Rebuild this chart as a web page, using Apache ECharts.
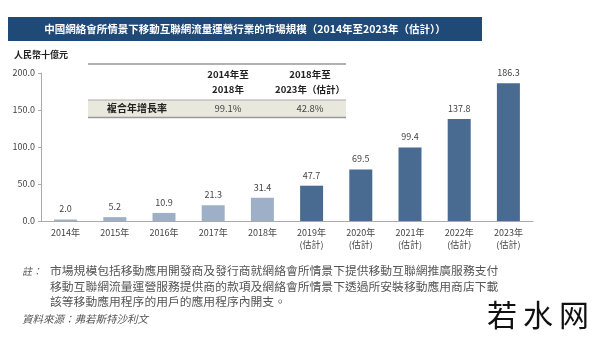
<!DOCTYPE html>
<html><head><meta charset="utf-8">
<script src="https://cdn.jsdelivr.net/npm/echarts@6/dist/echarts.min.js"></script>
<style>html,body{margin:0;padding:0;background:#fff}#c{width:600px;height:347px}</style>
</head><body><div id="c"></div>
<script>
const categories = ['2014年','2015年','2016年','2017年','2018年','2019年\n(估計)','2020年\n(估計)','2021年\n(估計)','2022年\n(估計)','2023年\n(估計)'];
const values = [2.0, 5.2, 10.9, 21.3, 31.4, 47.7, 69.5, 99.4, 137.8, 186.3];
const estimated = [false,false,false,false,false,true,true,true,true,true];
const yTicks = [0, 50, 100, 150, 200];
const cagrHeaders = [['2014年至','2018年'],['2018年至','2023年（估計）']];
const cagrLabel = '複合年增長率';
const cagrValues = ['99.1%','42.8%'];
const title = '中國網絡會所情景下移動互聯網流量運營行業的市場規模（2014年至2023年（估計））';
const unit = '人民幣十億元';
const notes = ['市場規模包括移動應用開發商及發行商就網絡會所情景下提供移動互聯網推廣服務支付',
 '移動互聯網流量運營服務提供商的款項及網絡會所情景下透過所安裝移動應用商店下載',
 '該等移動應用程序的用戶的應用程序內開支。'];
const source = '資料來源：弗若斯特沙利文';

const FONT = '"Noto Sans CJK TC","Noto Sans CJK SC",serif';
const chart = echarts.init(document.getElementById('c'));
const colLight = '#9db0c8', colDark = '#4a6b91';
const g = [
  {type:'rect', shape:{x:8,y:17,width:474,height:24}, style:{fill:'#1f4a78'}},
  {type:'text', x:245, y:29, style:{text:title, fill:'#fff', font:'bold 10.5px '+FONT, align:'center', verticalAlign:'middle'}},
  {type:'text', x:14, y:55, style:{text:unit, fill:'#222', font:'bold 9px '+FONT, verticalAlign:'middle'}},
  {type:'line', shape:{x1:88,y1:64,x2:346,y2:64}, style:{stroke:'#999',lineWidth:1.5}},
  {type:'rect', shape:{x:88,y:100,width:258,height:17}, style:{fill:'#e9e8dc'}},
  {type:'line', shape:{x1:88,y1:100,x2:346,y2:100}, style:{stroke:'#aaa',lineWidth:1}},
  {type:'line', shape:{x1:88,y1:117.5,x2:346,y2:117.5}, style:{stroke:'#999',lineWidth:1.5}},
  {type:'text', x:137, y:108.5, style:{text:cagrLabel, fill:'#222', font:'bold 10px '+FONT, align:'center', verticalAlign:'middle'}}
];
const colX = [228, 310];
cagrHeaders.forEach((h,i)=>{
  g.push({type:'text', x:colX[i], y:74, style:{text:h[0], fill:'#222', font:'bold 9.5px '+FONT, align:'center', verticalAlign:'middle'}});
  g.push({type:'text', x:colX[i], y:89, style:{text:h[1], fill:'#222', font:'bold 9.5px '+FONT, align:'center', verticalAlign:'middle'}});
  g.push({type:'text', x:colX[i], y:108.5, style:{text:cagrValues[i], fill:'#444', font:'9.5px '+FONT, align:'center', verticalAlign:'middle'}});
});
g.push({type:'text', x:22, y:271, style:{text:'註：', fill:'#555', font:'italic 10px '+FONT, verticalAlign:'middle'}});
notes.forEach((t,i)=>{
  g.push({type:'text', x:50, y:271+i*15.5, style:{text:t, fill:'#555', font:'11.8px '+FONT, verticalAlign:'middle'}});
});
g.push({type:'text', x:22, y:319, style:{text:source, fill:'#555', font:'italic 10.5px '+FONT, verticalAlign:'middle'}});
['若','水','网'].forEach((ch,i)=>{
  g.push({type:'text', x:502+i*36, y:315, style:{text:ch, fill:'#111', font:'30px '+FONT, align:'center', verticalAlign:'middle'}});
});

chart.setOption({
  animation:false,
  grid:{left:41, right:67, top:73, bottom:126},
  xAxis:{type:'category', data:categories,
    axisLine:{lineStyle:{color:'#aaa'}}, axisTick:{show:false},
    axisLabel:{color:'#444', fontSize:9, fontFamily:FONT, lineHeight:12, margin:6, interval:0}},
  yAxis:{type:'value', min:0, max:200, interval:50,
    axisLine:{show:true, lineStyle:{color:'#aaa'}}, axisTick:{show:true, inside:false, length:3, lineStyle:{color:'#aaa'}},
    splitLine:{show:false},
    axisLabel:{color:'#444', fontSize:9, fontFamily:FONT, margin:6, formatter:v=>v.toFixed(1)}},
  series:[{type:'bar', barWidth:23,
    data:values.map((v,i)=>({value:v, itemStyle:{color: estimated[i]?colDark:colLight}})),
    label:{show:true, position:'top', distance:6, color:'#444', fontSize:9, fontFamily:FONT, formatter:p=>p.value.toFixed(1)}}],
  graphic:g
});
</script></body></html>
